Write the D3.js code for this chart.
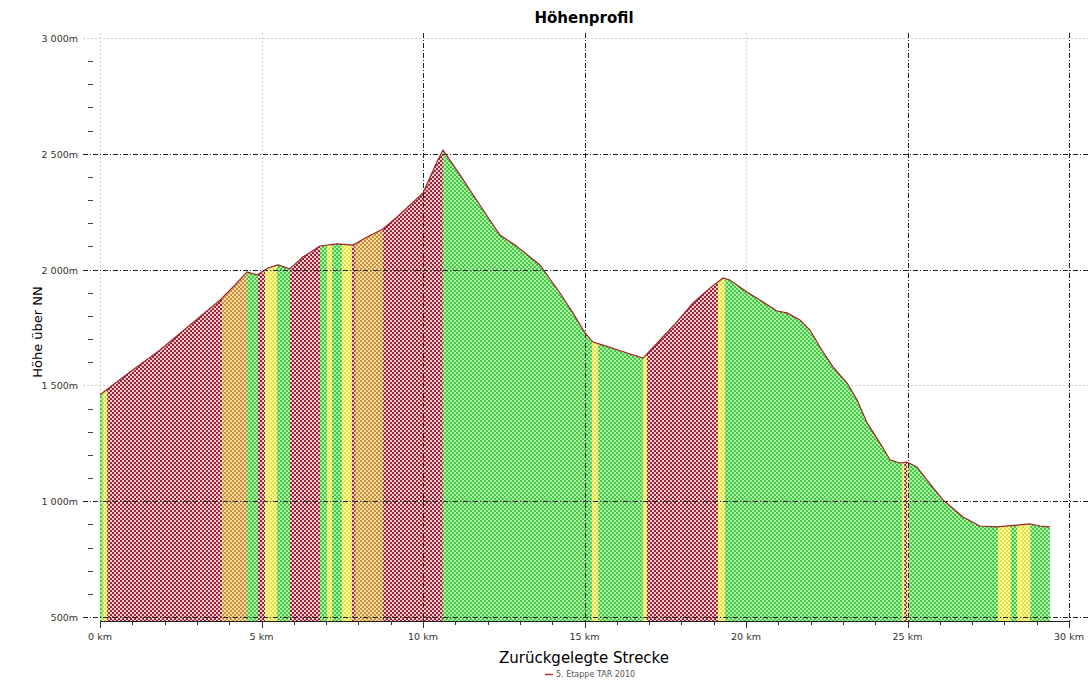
<!DOCTYPE html>
<html><head><meta charset="utf-8">
<script src="https://cdn.jsdelivr.net/npm/d3@7"></script>
<style>body{margin:0;background:#fff}svg{display:block}text{font-family:"DejaVu Sans",Verdana,sans-serif}</style>
</head><body><svg id="c" width="1092" height="681"></svg>
<script>
// distance (km) and elevation (m)
const distKm = [0,0.93,1.86,2.79,3.72,4.18,4.55,4.86,5.20,5.51,5.88,6.28,6.81,7.34,7.83,8.27,8.76,9.20,9.60,10.0,10.43,10.62,11.15,11.76,12.38,12.85,13.62,14.24,14.64,15.02,15.26,15.57,16.32,16.81,17.34,17.86,18.36,18.89,19.29,19.50,20.03,20.43,20.96,21.27,21.67,21.98,22.29,22.69,23.13,23.44,23.75,24.15,24.46,24.77,24.98,25.29,25.60,26.10,26.72,27.24,27.77,28.39,28.79,29.10,29.41];
const elevM = [1460,1558,1653,1761,1869,1934,1990,1977,2007,2020,2003,2054,2102,2111,2106,2141,2175,2227,2279,2331,2465,2516,2408,2279,2149,2106,2020,1899,1813,1726,1687,1674,1640,1618,1696,1774,1856,1921,1964,1955,1903,1869,1821,1813,1782,1739,1666,1580,1510,1437,1338,1251,1178,1165,1169,1148,1092,1005,932,893,889,897,902,893,889];
// gradient bands: start km, end km, class
const bandStart = [0,0.08,0.22,3.78,4.55,4.89,5.11,5.48,5.88,6.81,7.03,7.18,7.49,7.80,7.89,8.76,10.62,15.23,15.42,16.81,16.93,19.13,19.35,24.84,24.90,24.99,25.05,27.80,28.20,28.40,28.80];
const bandEnd   = [0.08,0.22,3.78,4.55,4.89,5.11,5.48,5.88,6.81,7.03,7.18,7.49,7.80,7.89,8.76,10.62,15.23,15.42,16.81,16.93,19.13,19.35,24.84,24.90,24.99,25.05,27.80,28.20,28.40,28.80,29.41];
const bandClass = ["g","y","r","o","g","r","y","g","r","g","y","g","y","r","o","r","g","y","g","y","r","y","g","y","r","y","g","y","g","y","g"];
const xTickLabels = ["0 km","5 km","10 km","15 km","20 km","25 km","30 km"];
const xTickValues = [0,5,10,15,20,25,30];
const yTickValues = [500,1000,1500,2000,2500,3000];
const yTickLabels = ["500m","1 000m","1 500m","2 000m","2 500m","3 000m"];
const title = "Höhenprofil";
const xTitle = "Zurückgelegte Strecke";
const yTitle = "Höhe über NN";
const legendLabel = "5. Etappe TAR 2010";

(function(){
const svg = d3.select("#c");
const pRight = 1088, pTop = 33, pBottom = 621;
const x = d3.scaleLinear().domain([0,30]).range([100,1069]);
const y = d3.scaleLinear().domain([500,3000]).range([617,38]);

const pal = {r:["#9c2535","#f6ccd4"], g:["#45c845","#aef2a6"], y:["#e2e244","#ffffa0"], o:["#cc8c44","#f8e098"]};
const defs = svg.append("defs");
Object.entries(pal).forEach(([k,c])=>{
  const p = defs.append("pattern").attr("id","p"+k).attr("width",4).attr("height",4).attr("patternUnits","userSpaceOnUse");
  p.append("rect").attr("width",4).attr("height",4).attr("fill",c[1]);
  p.append("rect").attr("width",2).attr("height",2).attr("fill",c[0]);
  p.append("rect").attr("x",2).attr("y",2).attr("width",2).attr("height",2).attr("fill",c[0]);
});
const pts = distKm.map((d,i)=>[d,elevM[i]]);
const area = d3.area().x(d=>x(d[0])).y0(pBottom).y1(d=>y(d[1]));
defs.append("clipPath").attr("id","ac").append("path").attr("d",area(pts));

const faintH=[1500,3000], darkH=[500,1000,2000,2500];
const faintV=[0,5,20], darkV=[10,15,25,30];
svg.append("g").selectAll("line").data(faintH).join("line")
  .attr("x1",83).attr("x2",pRight).attr("y1",d=>Math.round(y(d))+0.5).attr("y2",d=>Math.round(y(d))+0.5)
  .attr("stroke","#d0d0d0").attr("stroke-dasharray","2,2");
svg.append("g").selectAll("line").data(faintV).join("line")
  .attr("x1",d=>Math.round(x(d))+0.5).attr("x2",d=>Math.round(x(d))+0.5).attr("y1",pTop).attr("y2",pBottom)
  .attr("stroke","#d0d0d0").attr("stroke-dasharray","2,2");

const bg = svg.append("g").attr("clip-path","url(#ac)");
bg.selectAll("rect").data(bandClass).join("rect")
  .attr("x",(d,i)=>x(bandStart[i])).attr("width",(d,i)=>x(bandEnd[i])-x(bandStart[i])+0.3)
  .attr("y",pTop).attr("height",pBottom-pTop).attr("fill",d=>"url(#p"+d+")");

svg.append("g").selectAll("line").data(darkH).join("line")
  .attr("x1",83).attr("x2",pRight).attr("y1",d=>Math.round(y(d))+0.5).attr("y2",d=>Math.round(y(d))+0.5)
  .attr("stroke","#222").attr("stroke-dasharray","5,2,1,2");
svg.append("g").selectAll("line").data(darkV).join("line")
  .attr("x1",d=>Math.round(x(d))+0.5).attr("x2",d=>Math.round(x(d))+0.5).attr("y1",pTop).attr("y2",pBottom)
  .attr("stroke","#222").attr("stroke-dasharray","5,2,1,2");

svg.append("path").attr("d",d3.line().x(d=>x(d[0])).y(d=>y(d[1]))(pts))
  .attr("fill","none").attr("stroke","#9a2424").attr("stroke-width",1.2);

svg.append("g").selectAll("line").data(d3.range(600,3000,100).filter(v=>v%500)).join("line")
  .attr("x1",88).attr("x2",93).attr("y1",d=>Math.round(y(d))+0.5).attr("y2",d=>Math.round(y(d))+0.5)
  .attr("stroke","#444");
svg.append("g").selectAll("text").data(yTickValues).join("text")
  .attr("x",78).attr("y",d=>y(d)+4).attr("text-anchor","end").attr("font-size",9.5).attr("fill","#333")
  .text((d,i)=>yTickLabels[i]);

const xa = svg.append("g").attr("transform",`translate(0,${pBottom})`);
xa.append("line").attr("x1",x(0)).attr("x2",x(30)).attr("y1",0.5).attr("y2",0.5).attr("stroke","#222");
xa.selectAll("line.mi").data(d3.range(0,31)).join("line").attr("class","mi")
  .attr("x1",d=>Math.round(x(d))+0.5).attr("x2",d=>Math.round(x(d))+0.5).attr("y1",0).attr("y2",d=>d%5?4:7).attr("stroke","#333");
xa.selectAll("text").data(xTickValues).join("text")
  .attr("x",d=>x(d)).attr("y",19).attr("text-anchor","middle").attr("font-size",9.5).attr("fill","#333")
  .text((d,i)=>xTickLabels[i]);

svg.append("text").attr("x",584).attr("y",23).attr("text-anchor","middle").attr("font-size",15).attr("font-weight","bold").text(title);
svg.append("text").attr("x",584).attr("y",663).attr("text-anchor","middle").attr("font-size",15).text(xTitle);
svg.append("text").attr("transform","translate(42,332) rotate(-90)").attr("text-anchor","middle").attr("font-size",13).text(yTitle);
svg.append("line").attr("x1",545).attr("x2",553).attr("y1",674.5).attr("y2",674.5).attr("stroke","#c03030").attr("stroke-width",1.5);
svg.append("text").attr("x",556).attr("y",677).attr("font-size",8).attr("fill","#555").text(legendLabel);
})();
</script></body></html>
